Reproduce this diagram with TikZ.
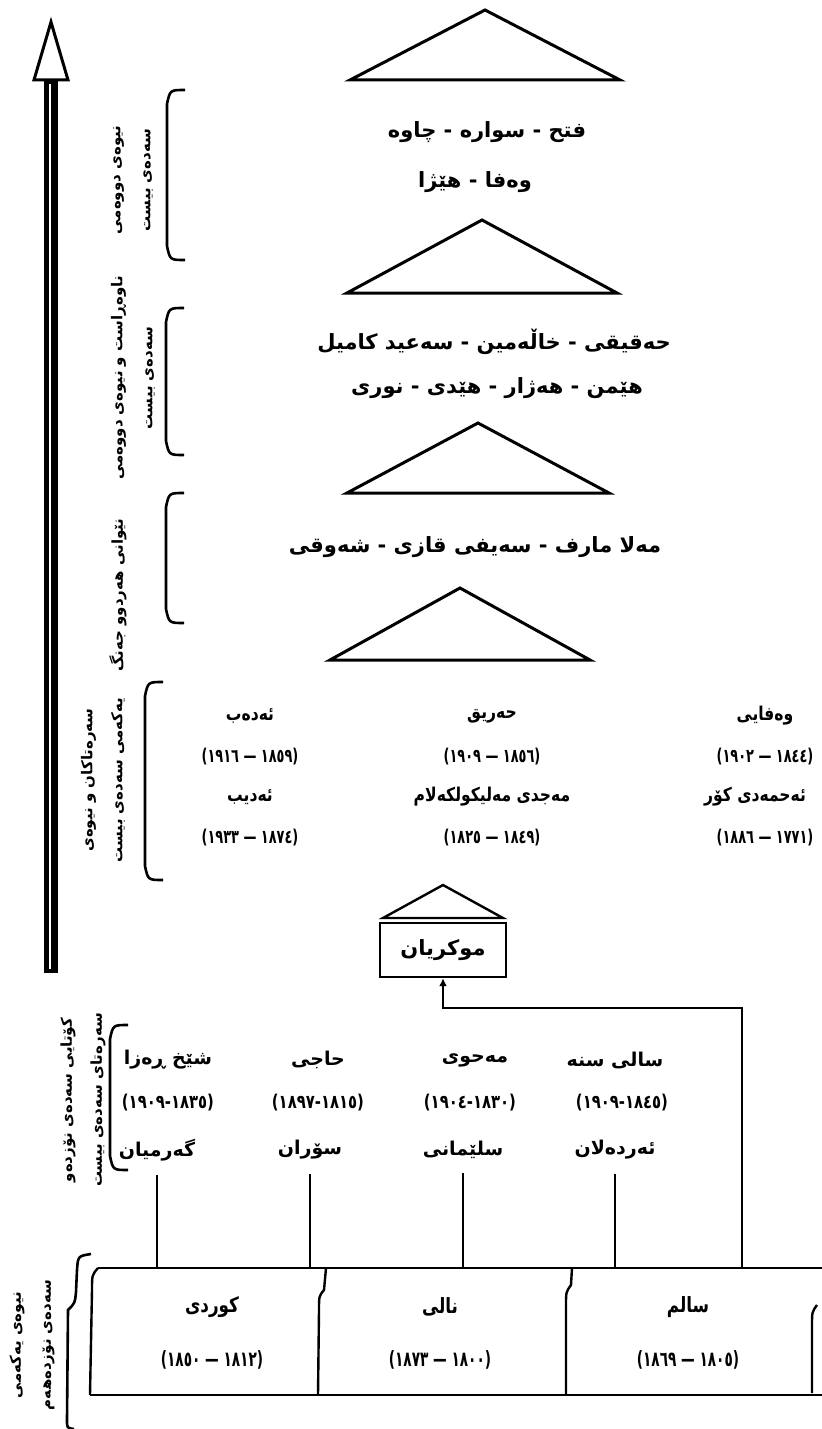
\documentclass[tikz,border=0pt]{standalone}
\usepackage{graphicx}
\usepackage{fontspec}
\newfontfamily\arabicfont[Script=Arabic]{DejaVu Sans}
\TeXXeTstate=1
\usetikzlibrary{arrows.meta, positioning}

\newcommand{\kur}[1]{\beginR #1\endR}
\newcommand{\narrow}[2]{\scalebox{#1}[1]{#2}}

\tikzset{
  poet/.style={font=\arabicfont\bfseries\fontsize{9.5}{11}\selectfont, inner sep=1pt},
  group/.style={font=\arabicfont\bfseries\fontsize{10.5}{12}\selectfont, inner sep=1pt},
  era/.style={rotate=90, align=center, inner sep=0pt,
    font=\arabicfont\bfseries\fontsize{7.5}{15}\selectfont},
  peak/.style={line width=1.5pt, line join=miter},
  bracket/.style={line width=1.3pt},
  link/.style={line width=1pt},
}

\begin{document}
\begin{tikzpicture}[x=0.5pt, y=-0.5pt]
  \useasboundingbox (0,0) rectangle (822,1429);

  % arrow of time
  \coordinate (arrowtip) at (51,22);
  \fill (44,80) rectangle (58,973);
  \draw[white, line width=0.6pt] (50,84) -- (50,969);
  \draw[peak, fill=white] (arrowtip) -- (34,80) -- (68,80) -- cycle;

  % triangles
  \foreach \tx/\ty/\lx/\by in {485/10/350/80, 482/220/347/293, 478/423/347/493, 460/588/330/660}
    \draw[peak] (\tx,\ty) -- (\lx,\by) -- ({2*\tx-\lx},\by) -- cycle;

  % brackets
  \foreach \bx/\bt/\bb in {167/90/260, 166/308/455, 166/493/623, 145/682/880, 110/1025/1170}
    \draw[bracket] ({\bx+18},\bt) .. controls ({\bx+3},\bt) .. (\bx,{\bt+14})
      -- (\bx,{\bb-14}) .. controls ({\bx+3},\bb) .. ({\bx+18},\bb);
  \draw[bracket] (91,1254) .. controls (78,1256) .. (77,1270) -- (76,1292)
    .. controls (75,1303) .. (68,1310) -- (67,1420) .. controls (67,1428) .. (74,1429);

  % era labels
  \node[era] (era1) at (133,180) {\kur{نیوەی دووەمی}\\\kur{سەدەی بیست}};
  \node[era] (era2) at (133,378) {\kur{ناوەڕاست و نیوەی دووەمی}\\\kur{سەدەی بیست}};
  \node[era] (era3) at (118,595) {\kur{نێوانی هەردوو جەنگ}};
  \node[era] (era4) at (103,780) {\kur{سەرەتاکان و نیوەی}\\\kur{یەکەمی سەدەی بیست}};
  \node[era] (era5) at (83,1100) {\kur{کۆتایی سەدەی نۆزدەو}\\\kur{سەرەتای سەدەی بیست}};
  \node[era] (era6) at (32,1345) {\kur{نیوەی یەکەمی}\\\kur{سەدەی نۆزدەهەم}};

  % groups of poets
  \node[group] (group1) at (487,132) {\kur{فتح - سوارە - چاوە}};
  \node[group] (group2) at (475,182) {\kur{وەفا - هێژا}};
  \node[group] (group3) at (494,342) {\kur{حەقیقی - خاڵەمین - سەعید کامیل}};
  \node[group] (group4) at (497,388) {\kur{هێمن - هەژار - هێدی - نوری}};
  \node[group] (group5) at (475,547) {\kur{مەلا مارف - سەیفی قازی - شەوقی}};

  % early twentieth century
  \node[poet] (edeb) at (250,716) {\narrow{0.82}{\kur{ئەدەب}}};
  \node[poet] (edebyears) at (250,757) {\narrow{0.68}{\kur{(١٨٥٩ — ١٩١٦)}}};
  \node[poet] (edib) at (250,797) {\narrow{0.82}{\kur{ئەدیب}}};
  \node[poet] (edibyears) at (250,838) {\narrow{0.68}{\kur{(١٨٧٤ — ١٩٣٣)}}};
  \node[poet] (heriq) at (492,716) {\narrow{0.82}{\kur{حەریق}}};
  \node[poet] (heriqyears) at (492,757) {\narrow{0.68}{\kur{(١٨٥٦ — ١٩٠٩)}}};
  \node[poet] (mecdi) at (492,797) {\narrow{0.82}{\kur{مەجدی مەلیکولکەلام}}};
  \node[poet] (mecdiyears) at (492,838) {\narrow{0.68}{\kur{(١٨٤٩ — ١٨٢٥)}}};
  \node[poet] (wefayi) at (765,716) {\narrow{0.82}{\kur{وەفایی}}};
  \node[poet] (wefayiyears) at (765,757) {\narrow{0.68}{\kur{(١٨٤٤ — ١٩٠٢)}}};
  \node[poet] (ehmedi) at (755,797) {\narrow{0.82}{\kur{ئەحمەدی کۆر}}};
  \node[poet] (ehmediyears) at (765,838) {\narrow{0.68}{\kur{(١٧٧١ — ١٨٨٦)}}};

  % Mukriyan
  \draw[peak, line width=1.2pt] (443,885) -- (383,918) -- (503,918) -- cycle;
  \node[group, draw, line width=1.2pt, minimum width=63pt, minimum height=27pt] (mukriyan) at (443,950) {\kur{موکریان}};

  % end of nineteenth century
  \node[poet] (reza) at (168,1060) {\kur{شێخ ڕەزا}};
  \node[poet] (rezayears) at (168,1103) {\narrow{0.78}{\kur{(١٨٣٥\hbox{-}١٩٠٩)}}};
  \node[poet] (kermian) at (157,1150) {\kur{گەرمیان}};
  \node[poet] (haji) at (318,1060) {\kur{حاجی}};
  \node[poet] (hajiyears) at (318,1103) {\narrow{0.78}{\kur{(١٨١٥\hbox{-}١٨٩٧)}}};
  \node[poet] (soran) at (310,1150) {\kur{سۆران}};
  \node[poet] (mehwi) at (475,1060) {\kur{مەحوی}};
  \node[poet] (mehwiyears) at (470,1103) {\narrow{0.78}{\kur{(١٨٣٠\hbox{-}١٩٠٤)}}};
  \node[poet] (slemani) at (463,1150) {\kur{سلێمانی}};
  \node[poet] (sali) at (615,1060) {\kur{سالی سنە}};
  \node[poet] (saliyears) at (622,1103) {\narrow{0.78}{\kur{(١٨٤٥\hbox{-}١٩٠٩)}}};
  \node[poet] (ardelan) at (615,1150) {\kur{ئەردەلان}};

  \coordinate (boxtop) at (0,1268);
  \coordinate (ardelanfoot) at (742,1268);
  \coordinate (elbow) at (742,1008);
  \foreach \p in {kermian, soran, slemani, ardelan}
    \draw[link, shorten <=6pt] (\p.south) -- (\p.south |- boxtop);
  \draw[link, -{Latex[length=4pt,width=4pt]}] (ardelanfoot) -- (elbow) -| (mukriyan.south);

  % first half of nineteenth century
  \draw[link, line width=1.2pt] (98,1268) -- (822,1268);
  \draw[link, line width=1.2pt] (90,1395) -- (822,1395);
  \draw[link, line width=1.2pt] (98,1268) .. controls (92,1275) .. (92,1290) -- (90,1395);
  \draw[link, line width=1.2pt] (326,1268) -- (324,1290) .. controls (319,1296) .. (319,1310) -- (318,1395);
  \draw[link, line width=1.2pt] (572,1268) -- (571,1285) .. controls (566,1292) .. (566,1305) -- (566,1395);
  \draw[link, line width=1.2pt] (817,1305) .. controls (812,1312) .. (812,1325) -- (812,1393);
  \node[group] (kurdi) at (212,1307) {\narrow{0.8}{\kur{کوردی}}};
  \node[group] (kurdiyears) at (212,1360) {\narrow{0.65}{\kur{(١٨١٢ — ١٨٥٠)}}};
  \node[group] (nali) at (440,1307) {\narrow{0.8}{\kur{نالی}}};
  \node[group] (naliyears) at (440,1360) {\narrow{0.65}{\kur{(١٨٠٠ — ١٨٧٣)}}};
  \node[group] (salim) at (688,1307) {\narrow{0.8}{\kur{سالم}}};
  \node[group] (salimyears) at (688,1360) {\narrow{0.65}{\kur{(١٨٠٥ — ١٨٦٩)}}};
\end{tikzpicture}
\end{document}
